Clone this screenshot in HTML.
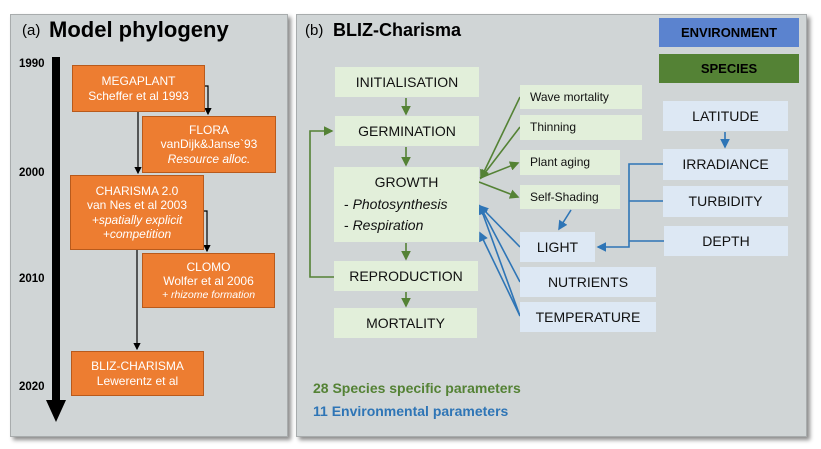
<!DOCTYPE html>
<html><head><meta charset="utf-8"><style>
body{margin:0;width:821px;height:449px;background:#fff;position:relative;overflow:hidden;font-family:"Liberation Sans",sans-serif}
.p{position:absolute;background:#d0d5d6;border:1px solid #a8acad;box-shadow:3px 3px 4px rgba(0,0,0,.45)}
.b{position:absolute;box-sizing:border-box;display:flex;flex-direction:column;align-items:center;justify-content:center;text-align:center;line-height:1.2}
.o{background:#ed7d31;border:1px solid #b85a1c;color:#fff;font-size:12px}
.g{background:#e2efda;color:#111;font-size:14px}
.s{background:#e2efda;color:#111;font-size:12px;align-items:flex-start;padding-left:10px}
.e{background:#dde8f4;color:#111;font-size:14px}
.y{position:absolute;font-weight:bold;font-size:11.5px;left:19px}
i{font-style:italic}
</style></head><body>
<div class="p" style="left:10px;top:14px;width:276px;height:421px"></div>
<div class="p" style="left:296px;top:14px;width:509px;height:421px"></div>
<div style="position:absolute;left:22px;top:22px;font-size:15px">(a)</div>
<div style="position:absolute;left:49px;top:17px;font-size:22px;font-weight:bold">Model phylogeny</div>
<div style="position:absolute;left:305px;top:22px;font-size:15px">(b)</div>
<div style="position:absolute;left:333px;top:20px;font-size:18px;font-weight:bold">BLIZ-Charisma</div>
<svg width="821" height="449" style="position:absolute;left:0;top:0">
<defs>
<marker id="k" markerWidth="6" markerHeight="6" refX="5" refY="3" orient="auto"><path d="M0,0L6,3L0,6z" fill="#000"/></marker>
<marker id="gm" markerWidth="6" markerHeight="6" refX="5" refY="3" orient="auto"><path d="M0,0L6,3L0,6z" fill="#548235"/></marker>
<marker id="bm" markerWidth="6" markerHeight="6" refX="5" refY="3" orient="auto"><path d="M0,0L6,3L0,6z" fill="#2e75b6"/></marker>
</defs>
<rect x="52" y="57" width="8" height="346" fill="#000"/>
<path d="M46,400L66,400L56,422z" fill="#000"/>
<g stroke="#000" stroke-width="1.2" fill="none" marker-end="url(#k)">
<path d="M204,86H208V114"/><path d="M138,111V173"/><path d="M203,211H207V251"/><path d="M137,249V349"/>
</g>
<g stroke="#548235" stroke-width="1.6" fill="none" marker-end="url(#gm)">
<path d="M406,98V114"/><path d="M406,147V165"/><path d="M406,243V259"/><path d="M406,292V306"/>
<path d="M334,277H310V131H332"/>
<path d="M520,97L481,178"/><path d="M520,127L481,178"/>
<path d="M480,178L518,163"/><path d="M479,182L518,197"/>
</g>
<g stroke="#2e75b6" stroke-width="1.6" fill="none" marker-end="url(#bm)">
<path d="M520,247L480,206"/><path d="M520,282L480,206"/><path d="M520,316L480,206"/><path d="M520,316L480,233"/>
<path d="M571,210L559,229"/><path d="M725,132V147"/>
<path d="M663,164H629V247H598"/>
</g>
<g stroke="#2e75b6" stroke-width="1.6" fill="none"><path d="M629,201H663"/><path d="M629,241H664"/></g>
</svg>
<div class="y" style="top:58px">1990</div>
<div class="y" style="top:167px">2000</div>
<div class="y" style="top:273px">2010</div>
<div class="y" style="top:381px">2020</div>
<div class="b o" style="left:72px;top:65px;width:133px;height:47px">MEGAPLANT<br>Scheffer et al 1993</div>
<div class="b o" style="left:142px;top:116px;width:134px;height:57px">FLORA<br>vanDijk&amp;Janse`93<br><i>Resource alloc.</i></div>
<div class="b o" style="left:70px;top:175px;width:134px;height:75px">CHARISMA 2.0<br>van Nes et al 2003<br><i>+spatially explicit</i><i>+competition</i></div>
<div class="b o" style="left:142px;top:253px;width:133px;height:55px">CLOMO<br>Wolfer et al 2006<br><i style="font-size:10.5px">+ rhizome formation</i></div>
<div class="b o" style="left:71px;top:351px;width:133px;height:45px">BLIZ-CHARISMA<br>Lewerentz et al</div>
<div class="b" style="left:659px;top:18px;width:140px;height:29px;background:#5b83cf;font-weight:bold;font-size:13px">ENVIRONMENT</div>
<div class="b" style="left:659px;top:54px;width:140px;height:29px;background:#548235;font-weight:bold;font-size:13px">SPECIES</div>
<div class="b g" style="left:335px;top:67px;width:144px;height:30px">INITIALISATION</div>
<div class="b g" style="left:335px;top:116px;width:144px;height:30px">GERMINATION</div>
<div class="b g" style="left:334px;top:167px;width:145px;height:75px;line-height:1.55">GROWTH<div style="align-self:flex-start;padding-left:10px;text-align:left">- <i>Photosynthesis</i><br>- <i>Respiration</i></div></div>
<div class="b g" style="left:334px;top:261px;width:144px;height:30px">REPRODUCTION</div>
<div class="b g" style="left:334px;top:308px;width:143px;height:30px">MORTALITY</div>
<div class="b s" style="left:520px;top:85px;width:122px;height:24px">Wave mortality</div>
<div class="b s" style="left:520px;top:115px;width:122px;height:25px">Thinning</div>
<div class="b s" style="left:520px;top:150px;width:100px;height:25px">Plant aging</div>
<div class="b s" style="left:520px;top:185px;width:100px;height:24px">Self-Shading</div>
<div class="b e" style="left:520px;top:232px;width:75px;height:30px">LIGHT</div>
<div class="b e" style="left:520px;top:267px;width:136px;height:30px">NUTRIENTS</div>
<div class="b e" style="left:520px;top:302px;width:136px;height:30px">TEMPERATURE</div>
<div class="b e" style="left:663px;top:101px;width:125px;height:30px">LATITUDE</div>
<div class="b e" style="left:663px;top:149px;width:125px;height:31px">IRRADIANCE</div>
<div class="b e" style="left:663px;top:186px;width:125px;height:31px">TURBIDITY</div>
<div class="b e" style="left:664px;top:226px;width:124px;height:30px">DEPTH</div>
<div style="position:absolute;left:313px;top:380px;font-size:14px;font-weight:bold;color:#548235">28 Species specific parameters</div>
<div style="position:absolute;left:313px;top:403px;font-size:14px;font-weight:bold;color:#2e75b6">11 Environmental parameters</div>
</body></html>
